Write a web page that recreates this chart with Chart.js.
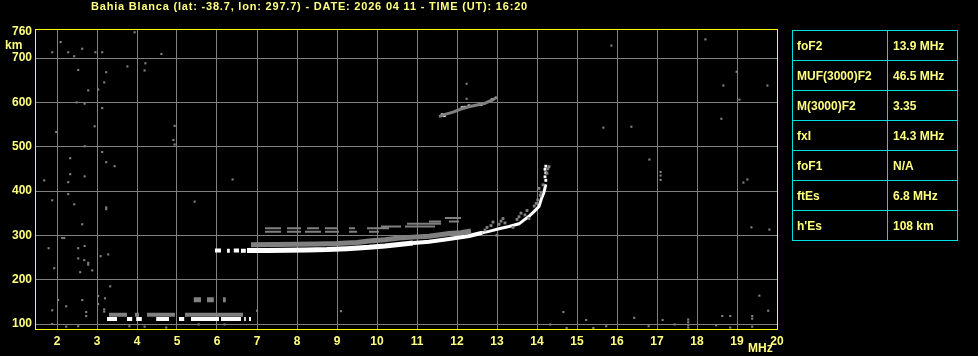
<!DOCTYPE html>
<html><head><meta charset="utf-8">
<script src="https://cdn.jsdelivr.net/npm/chart.js@4.4.1/dist/chart.umd.min.js"></script>
<style>
html,body{margin:0;padding:0;background:#000;overflow:hidden}
#wrap{position:relative;width:978px;height:356px;background:#000}
#c{position:absolute;left:0;top:0}
.t{position:absolute;color:#ffff80;font-family:"Liberation Sans",Arial,sans-serif;font-weight:bold;white-space:pre;line-height:1}
#title{left:91px;top:1px;font-size:11px;letter-spacing:0.8px}
#km{left:5px;top:39px;font-size:12px}
#mhz{left:748px;top:342px;font-size:12px}
.cell{position:absolute;box-sizing:border-box;border:1px solid #00e0e0;height:31px;color:#ffff80;font:bold 12px "Liberation Sans",Arial,sans-serif;line-height:29px;padding-top:1px;white-space:pre}
</style></head>
<body>
<div id="wrap">
<canvas id="c" width="978" height="356"></canvas>
<div id="title" class="t"></div>
<div id="km" class="t">km</div>
<div id="mhz" class="t">MHz</div>
<div id="table"></div>
</div>
<script>
// ---- data ----
const titleText = "Bahia Blanca (lat: -38.7, lon: 297.7) - DATE: 2026 04 11 - TIME (UT): 16:20";
const xTicks = [2,3,4,5,6,7,8,9,10,11,12,13,14,15,16,17,18,19,20];
const yTicks = [100,200,300,400,500,600,700,760];

// main F-layer trace (white)
const fTraceFreq   = [6.75,7.25,7.75,8.25,8.75,9.25,9.8,10.2,10.55,10.9,11.3,11.8,12.3,12.63,12.8,13.05,13.3,13.55,13.68,13.8,13.93,14.05,14.12,14.17,14.22];
const fTraceHeight = [266,266,266.5,267,268,270,273,276,279.5,282.5,285.6,292,298.5,306,309,315,320,326,335,343,354,365,385,396,415];
const fTraceStart  = [[5.95,6.1,266],[6.25,6.32,265],[6.42,6.55,266],[6.6,6.72,265.5]];
const fTopDots     = [[14.22,424],[14.2,432],[14.22,441],[14.2,449],[14.22,456]];

// grey echo band just above the F trace
const fGrayFreq   = [6.85,7.5,8.0,8.5,9.0,9.5,9.8,10.2,10.55,10.9,11.3,11.8,12.1,12.35];
const fGrayHeight = [279,279.5,280,280.5,281.5,284,287,290,294,296,298,304,306,310];

// thin grey lines higher up (f1, f2, height)
const fUpperSegments = [
  [7.2,7.6,316],[7.75,8.1,316],[8.25,8.55,316],[8.7,9.0,316],[9.3,9.45,316],[9.75,10.3,316],
  [7.2,7.6,308],[7.75,8.1,308],[8.2,8.6,308],[8.7,9.05,308],[9.3,9.5,308],[9.8,10.05,308],
  [10.1,10.6,320],[10.7,11.45,320],[10.75,11.6,326],[11.3,11.6,331],[11.7,12.1,339],[11.8,12.05,331]
];
// grey scatter around the curved part of the trace
const fGrayScatter = [
  [12.7,312],[12.75,318],[12.85,322],[13.05,325],[13.1,332],[13.15,338],[13.2,328],
  [13.5,336],[13.55,342],[13.6,350],[13.7,346],[13.75,356],[13.8,338],
  [13.93,366],[13.98,372],[14.02,380],[14.08,390],[14.1,397],[14.05,406],[14.15,414],
  [14.25,440],[14.27,450],[14.3,455],[13.4,318],[13.0,300],[12.9,330]
];

// second-hop F trace near 600 km
const f2HopFreq   = [11.55,11.7,11.9,12.1,12.3,12.5,12.7,12.9,13.0];
const f2HopHeight = [568,573,578,585,590,594,598,606,612];
const f2HopWhite  = [[11.63,572],[11.68,570],[12.13,588],[12.2,589],[12.3,592],[12.6,595],[12.88,606]];

// sporadic E (f1, f2, height)
const esWhiteSegments = [[3.25,3.5,111.5],[3.75,3.88,111.5],[3.98,4.12,111.5],[4.48,4.8,111.5],[5.05,5.18,111.5],[5.35,6.05,111.5],[6.1,6.6,111.5],[6.68,6.72,111.5],[6.8,6.85,111.5]];
const esGraySegments  = [[3.3,3.75,121],[3.95,4.05,121],[4.25,4.95,121],[5.2,6.65,121]];
const esUpperGray     = [[5.42,5.6,155],[5.75,5.92,155],[6.15,6.22,155]];

// scattered noise dots
const noiseDots = [
  [1.88,713],[2.09,736],[2.28,713],[2.43,704],[2.63,721],[3.13,713],[2.53,673],[3.23,668],[3.18,645],
  [2.78,627],[3.03,629],[2.49,600],[2.69,597],[3.13,587],[2.94,546],[1.98,533],[2.69,501],[3.13,488],
  [3.23,465],[3.44,456],[2.33,474],[1.68,424],[2.33,438],[2.69,433],[2.28,420],[2.28,393],[1.88,379],
  [2.43,370],[3.23,363],[3.23,359],[2.63,325],[2.13,294],[2.18,294],[1.79,271],[2.53,271],[2.69,276],
  [2.53,248],[2.68,244],[2.78,238],[2.78,234],[3.09,253],[3.28,257],[1.93,226],[2.58,217],[2.88,221],
  [3.33,185],[2.03,154],[2.63,154],[3.03,163],[3.2,158],[1.88,131],[2.23,140],[2.73,127],[2.73,118],
  [3.03,145],[3.18,133],[3.18,128],[1.88,100],[2.23,94],[2.53,95],
  [3.94,758],[2.96,713],[4.61,709],[3.76,681],[4.21,688],[4.19,672],[4.94,547],[4.91,515],[4.94,505],
  [6.39,426],[5.44,376],[15.86,728],[18.21,742],[18.99,669],[18.66,638],[19.06,606],[18.61,563],
  [15.66,543],[16.36,545],[16.81,471],[17.09,443],[17.09,435],[17.09,425],[19.26,426],[19.16,419],
  [19.76,638],[19.36,318],[19.81,313],[19.56,164],
  [3.81,95],[4.19,94],[4.73,92],[5.54,99],[6.19,99],[7.0,130],[9.1,129],[14.66,127],[14.33,99],
  [14.74,91],[15.23,109],[15.41,91],[15.73,95],[16.43,114],[16.79,95],[17.14,109],[17.44,99],
  [17.78,92],[17.78,98],[17.78,104],[17.78,110],[18.48,97],[18.63,118],[18.83,118],[18.83,92],
  [19.38,118],[19.38,112],[19.38,94],[19.78,130],[12.24,642],[12.24,608]
];

// parameter table
const paramNames  = ['foF2','MUF(3000)F2','M(3000)F2','fxI','foF1','ftEs',"h'Es"];
const paramValues = ['13.9 MHz','46.5 MHz','3.35','14.3 MHz','N/A','6.8 MHz','108 km'];

// ---- build page ----
document.getElementById('title').textContent = titleText;
const tbl = document.getElementById('table');
paramNames.forEach((n,i)=>{
  const a=document.createElement('div');a.className='cell';
  a.style.left='792px';a.style.top=(30+30*i)+'px';a.style.width='96px';a.style.paddingLeft='4px';a.textContent=n;
  const b=document.createElement('div');b.className='cell';
  b.style.left='887px';b.style.top=(30+30*i)+'px';b.style.width='71px';b.style.paddingLeft='5px';b.textContent=paramValues[i];
  tbl.appendChild(a);tbl.appendChild(b);
});

const GRAY='#808080', WHITE='#ffffff', YEL='#ffff00', TXT='#ffff80';
function curve(fs,hs){return fs.map((f,i)=>({x:f,y:hs[i]}));}
function segs(list){const d=[];list.forEach(s=>{d.push({x:s[0],y:s[2]},{x:s[1],y:s[2]},{x:s[1],y:null});});return d;}
function pts(list){return list.map(p=>({x:p[0],y:p[1]}));}
function lineDs(data,color,w){return {type:'line',data,borderColor:color,borderWidth:w,pointRadius:0,showLine:true,spanGaps:false,borderCapStyle:'butt',tension:0,fill:false};}
function dotDs(data,color,r){return {type:'scatter',data,backgroundColor:color,borderWidth:0,pointStyle:'rect',pointRadius:r};}

const frame={id:'frame',afterDraw(ch){const c=ch.ctx,a=ch.chartArea;c.save();c.strokeStyle=YEL;c.lineWidth=1;c.strokeRect(a.left+0.5,a.top-0.5,a.right-a.left,a.bottom-a.top);c.restore();}};
const bg={id:'bg',beforeDraw(ch){const c=ch.ctx;c.save();c.fillStyle='#000';c.fillRect(0,0,ch.width,ch.height);c.restore();}};

const mainTrace = lineDs(curve(fTraceFreq,fTraceHeight),WHITE,4);
mainTrace.segment = {borderWidth: s => s.p0.parsed.x < 10.6 ? 5 : (s.p0.parsed.x < 12.6 ? 4 : 3)};

new Chart(document.getElementById('c'),{
  type:'scatter',
  data:{datasets:[
    dotDs(pts(noiseDots),GRAY,1.5),
    lineDs(segs(esUpperGray),GRAY,5),
    lineDs(segs(esGraySegments),GRAY,4),
    lineDs(segs(fUpperSegments),GRAY,2),
    lineDs(curve(fGrayFreq,fGrayHeight),GRAY,5),
    dotDs(pts(fGrayScatter),GRAY,2),
    lineDs(curve(f2HopFreq,f2HopHeight),GRAY,3),
    lineDs(segs(esWhiteSegments),WHITE,4),
    lineDs(segs(fTraceStart),WHITE,4),
    mainTrace,
    dotDs(pts(fTopDots),WHITE,2),
    dotDs(pts(f2HopWhite),WHITE,2)
  ]},
  options:{
    responsive:false,animation:false,events:[],
    layout:{padding:{top:30,right:201,left:0,bottom:0}},
    plugins:{legend:{display:false},tooltip:{enabled:false},title:{display:false}},
    scales:{
      x:{type:'linear',min:1.45,max:20,
        afterFit(s){s.height=26;},
        afterBuildTicks(s){s.ticks=xTicks.map(v=>({value:v}));},
        border:{display:false},
        grid:{drawTicks:false,lineWidth:1,color:c=>(c.tick&&c.tick.value===20)?'rgba(0,0,0,0)':GRAY},
        ticks:{color:TXT,padding:4,autoSkip:false,maxRotation:0,font:{family:'Liberation Sans',size:12,weight:'bold'}}},
      y:{type:'linear',min:86.5,max:763.2,
        afterFit(s){s.width=35;},
        afterBuildTicks(s){s.ticks=yTicks.map(v=>({value:v}));},
        border:{display:false},
        grid:{drawTicks:false,lineWidth:1,color:c=>(c.tick&&c.tick.value===760)?'rgba(0,0,0,0)':GRAY},
        ticks:{color:TXT,padding:3,autoSkip:false,font:{family:'Liberation Sans',size:12,weight:'bold'}}}
    }
  },
  plugins:[bg,frame]
});
</script>
</body></html>
